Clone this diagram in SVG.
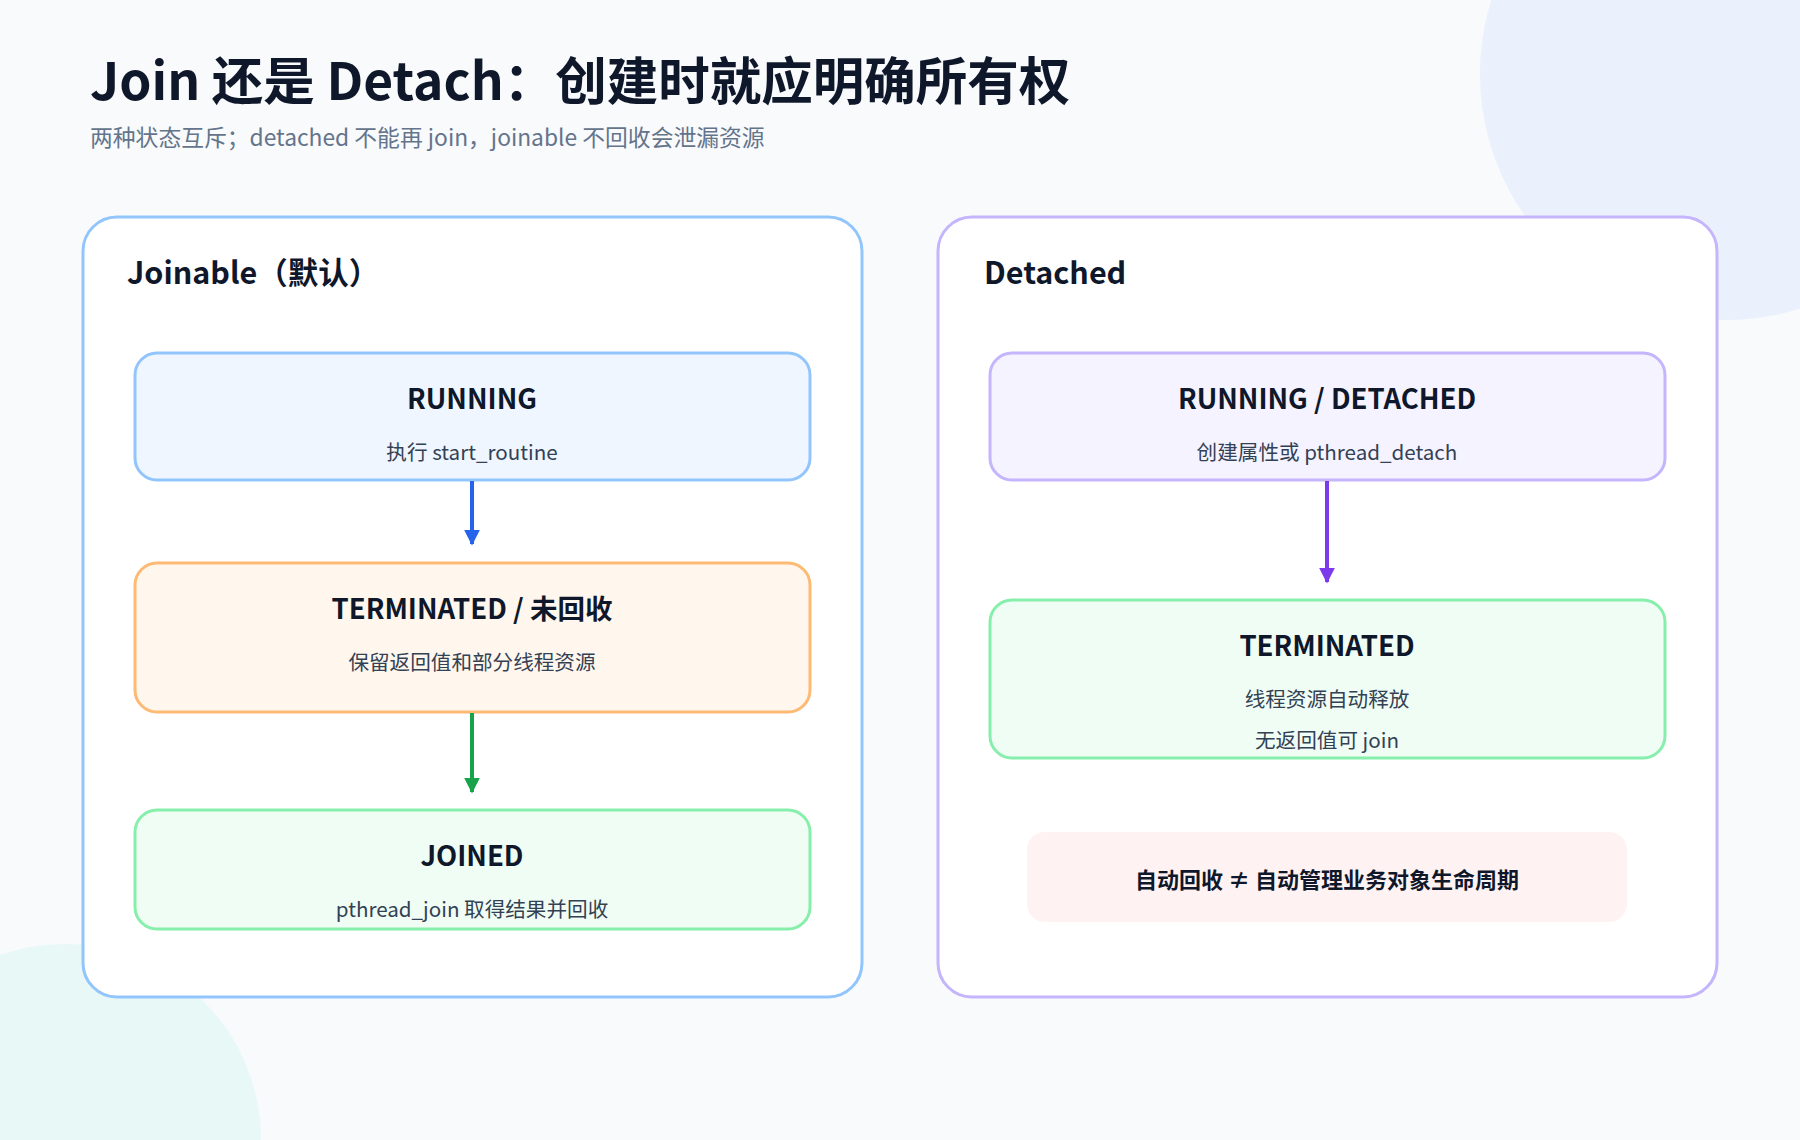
<svg xmlns="http://www.w3.org/2000/svg" width="1800" height="1140" viewBox="0 0 1800 1140">
<defs>
<style>
text{font-family:"Noto Sans CJK SC","Noto Sans",sans-serif;}
.h1{font-size:51.5px;font-weight:700;fill:#0f172a;}
.sub{font-size:22.8px;fill:#64748b;}
.ptitle{font-size:30.5px;font-weight:700;fill:#0f172a;}
.nt{font-size:27.5px;font-weight:700;fill:#0f172a;text-anchor:middle;}
.ns{font-size:20.6px;fill:#334155;text-anchor:middle;}
.note{font-size:22px;font-weight:700;fill:#0f172a;text-anchor:middle;}
.panel{fill:#ffffff;stroke-width:3;}
.node{stroke-width:3;}
</style>
<marker id="ab" viewBox="0 0 10 10" refX="9" refY="5" markerWidth="4" markerHeight="4" orient="auto"><path d="M0,0 L10,5 L0,10 z" fill="#2563eb"/></marker>
<marker id="ag" viewBox="0 0 10 10" refX="9" refY="5" markerWidth="4" markerHeight="4" orient="auto"><path d="M0,0 L10,5 L0,10 z" fill="#16a34a"/></marker>
<marker id="ap" viewBox="0 0 10 10" refX="9" refY="5" markerWidth="4" markerHeight="4" orient="auto"><path d="M0,0 L10,5 L0,10 z" fill="#7c3aed"/></marker>
</defs>
<rect width="1800" height="1140" fill="#f8fafc"/>
<circle cx="1726" cy="74" r="246" fill="#eaf1fc"/>
<circle cx="65" cy="1140" r="196" fill="#e8f8f6"/>

<text class="h1" x="90" y="100">Join 还是 Detach：创建时就应明确所有权</text>
<text class="sub" x="90" y="146">两种状态互斥；detached 不能再 join，joinable 不回收会泄漏资源</text>

<g id="panel-joinable">
<rect class="panel" x="83" y="217" width="779" height="780" rx="34" stroke="#93c5fd"/>
<text class="ptitle" x="127" y="284">Joinable（默认）</text>
</g>
<g id="panel-detached">
<rect class="panel" x="938" y="217" width="779" height="780" rx="34" stroke="#c4b5fd"/>
<text class="ptitle" x="984" y="284">Detached</text>
</g>

<g id="node-running">
<rect class="node" x="135" y="353" width="675" height="127" rx="22" fill="#eff6ff" stroke="#93c5fd"/>
<text class="nt" x="472" y="409">RUNNING</text>
<text class="ns" x="472" y="460">执行 start_routine</text>
</g>
<g id="node-terminated-unreaped">
<rect class="node" x="135" y="563" width="675" height="149" rx="22" fill="#fff7ed" stroke="#fdba74"/>
<text class="nt" x="472" y="619">TERMINATED / 未回收</text>
<text class="ns" x="472" y="670">保留返回值和部分线程资源</text>
</g>
<g id="node-joined">
<rect class="node" x="135" y="810" width="675" height="119" rx="22" fill="#f0fdf4" stroke="#86efac"/>
<text class="nt" x="472" y="866">JOINED</text>
<text class="ns" x="472" y="917">pthread_join 取得结果并回收</text>
</g>

<g id="node-running-detached">
<rect class="node" x="990" y="353" width="675" height="127" rx="22" fill="#f5f3ff" stroke="#c4b5fd"/>
<text class="nt" x="1327" y="409">RUNNING / DETACHED</text>
<text class="ns" x="1327" y="460">创建属性或 pthread_detach</text>
</g>
<g id="node-terminated">
<rect class="node" x="990" y="600" width="675" height="158" rx="22" fill="#f0fdf4" stroke="#86efac"/>
<text class="nt" x="1327" y="656">TERMINATED</text>
<text class="ns" x="1327" y="707">线程资源自动释放</text>
<text class="ns" x="1327" y="748">无返回值可 join</text>
</g>
<g id="note">
<rect x="1027" y="832" width="600" height="90" rx="18" fill="#fef2f2"/>
<text class="note" x="1327" y="888">自动回收 ≠ 自动管理业务对象生命周期</text>
</g>

<g id="connectors" fill="none" stroke-width="4">
<line x1="472" y1="481" x2="472" y2="544" stroke="#2563eb" marker-end="url(#ab)"/>
<line x1="472" y1="713" x2="472" y2="792" stroke="#16a34a" marker-end="url(#ag)"/>
<line x1="1327" y1="481" x2="1327" y2="582" stroke="#7c3aed" marker-end="url(#ap)"/>
</g>
</svg>
